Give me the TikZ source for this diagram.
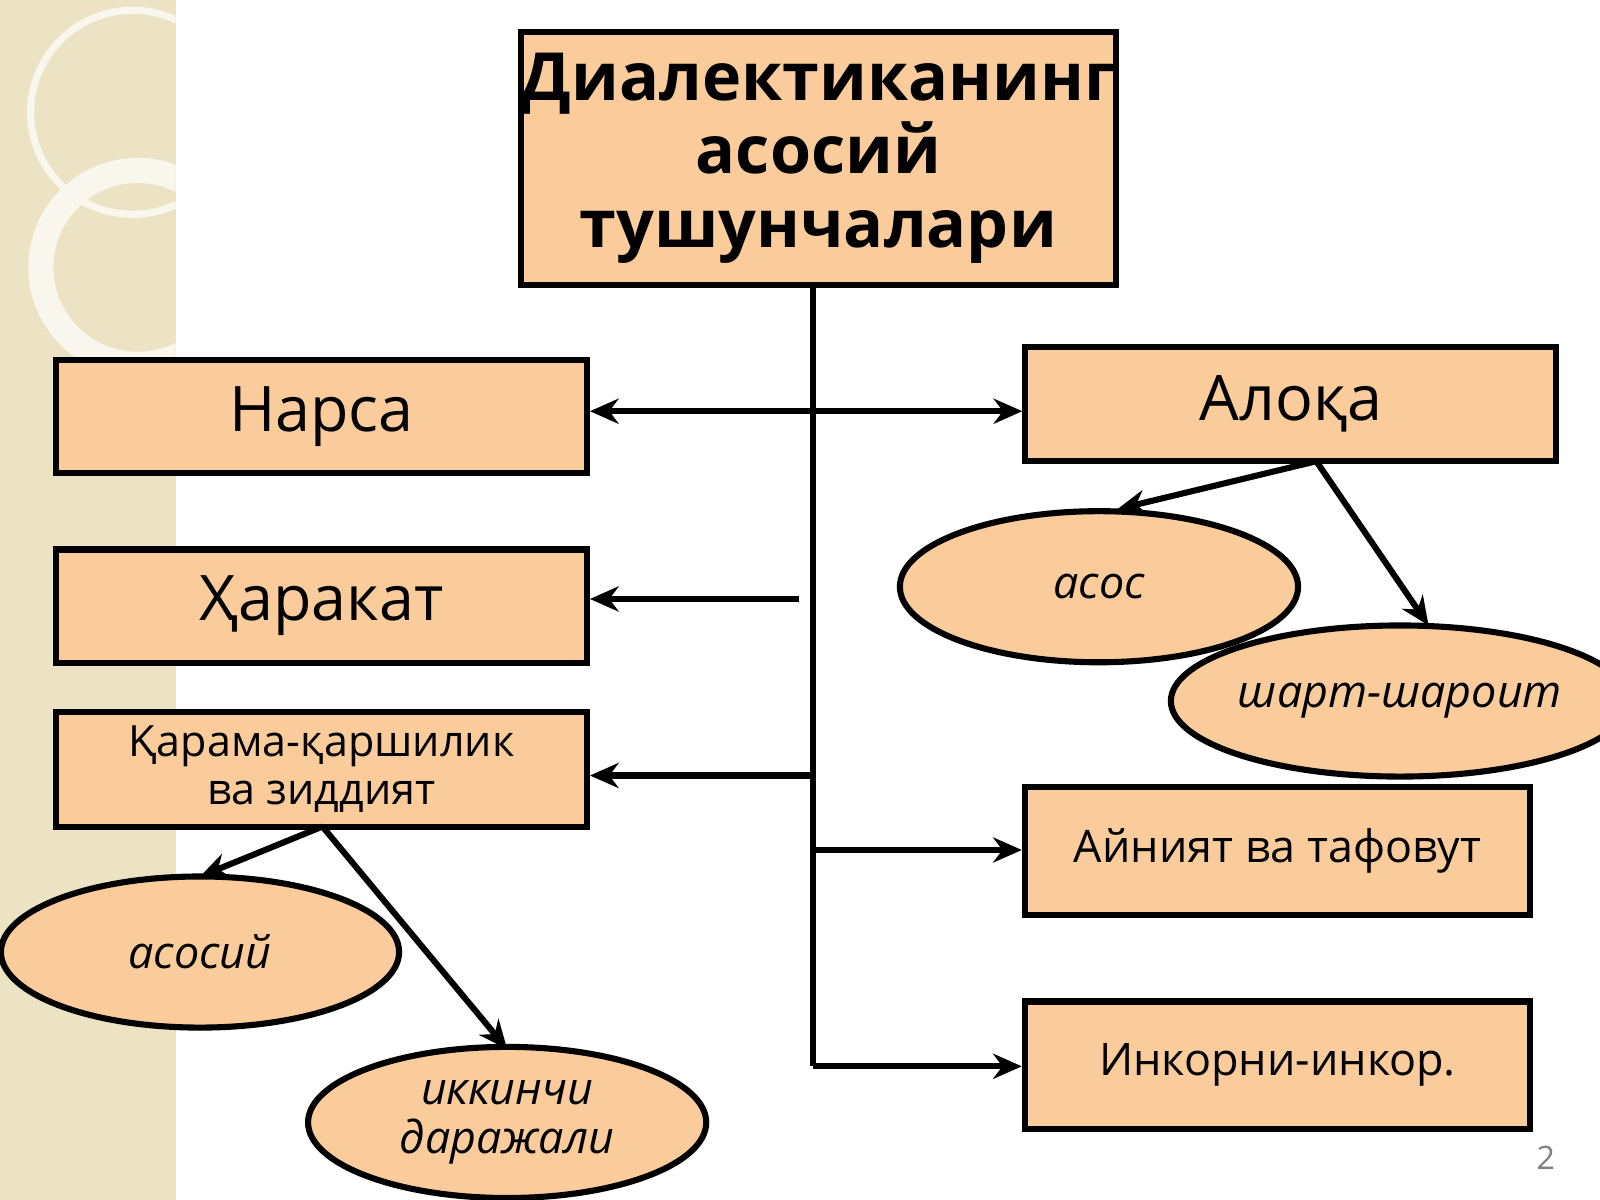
\documentclass[tikz,border=0pt]{standalone}
\usepackage{fontspec}
\setmainfont{Open Sans}
\usepackage{xcolor}
\usetikzlibrary{arrows.meta,shapes.geometric}
\definecolor{peach}{RGB}{250,203,155}
\definecolor{strip}{RGB}{236,226,196}
\tikzset{
  box/.style={draw, line width=1.7pt, fill=peach, minimum width=#1, inner sep=0pt},
  oval/.style={draw, ellipse, line width=1.7pt, fill=peach, inner sep=0pt, minimum width=3.9cm, minimum height=1.48cm, font=\fontsize{12.5}{15}\selectfont\itshape},
  link/.style={line width=1.7pt, -{Stealth[length=8pt,width=7pt]}}
}
\begin{document}
\begin{tikzpicture}[x=0.01cm, y=-0.01cm]
  \useasboundingbox (0,0) rectangle (1568,1176);
  % decorative strip
  \fill[strip] (0,0) rectangle (172,1176);
  \begin{scope}
    \clip (0,0) rectangle (172,1176);
    \draw[white, line width=2pt, opacity=0.7] (130,110) circle (100);
    \draw[white!70!strip, line width=7pt] (135,262) circle (95);
  \end{scope}
  \def\Xt{797};
  % boxes
  \node[box=5.82cm, minimum height=2.48cm, align=center, font=\fontsize{18.5}{20.5}\selectfont\bfseries] (title) at (802,155) {Диалектиканинг\\асосий\\тушунчалари};
  \node[box=5.2cm, minimum height=1.11cm, font=\fontsize{17.5}{21}\selectfont] (narsa) at (315,408) {Нарса};
  \node[box=5.2cm, minimum height=1.11cm, font=\fontsize{17.5}{21}\selectfont] (harakat) at (315,594) {Ҳаракат};
  \node[box=5.2cm, minimum height=1.12cm, align=center, font=\fontsize{12}{13.5}\selectfont] (qarama) at (315,754) {Қарама-қаршилик\\ва зиддият};
  \node[box=5.2cm, minimum height=1.12cm, font=\fontsize{17.5}{21}\selectfont] (aloqa) at (1265,396) {Алоқа};
  \node[box=4.95cm, minimum height=1.25cm, font=\fontsize{12.5}{15}\selectfont] (ayniyat) at (1252,834) {Айният ва тафовут};
  \node[box=4.95cm, minimum height=1.25cm, font=\fontsize{12.5}{15}\selectfont] (inkor) at (1252,1044) {Инкорни-инкор.};
  % ellipses
  \node[oval] (asos) at (1077,575) {асос};
  \node[oval] (shart) at (1372,687) {шарт-шароит};
  \node[oval, align=center] (asosiy) at (196,933) {асосий};
  \node[oval, align=center, font=\fontsize{12.5}{13.5}\selectfont\itshape] (ikkinchi) at (497,1100) {иккинчи\\даражали};
  % connectors
  \coordinate (top) at (\Xt,279);
  \coordinate (bot) at (\Xt,1045);
  \coordinate (gap) at (783,587);
  \draw[line width=1.7pt] (title.south -| top) -- (bot);
  \draw[link] (\Xt,403) -- (narsa.east |- 0,403);
  \draw[link] (\Xt,403) -- (aloqa.west |- 0,403);
  \draw[link] (gap) -- (harakat.east |- gap);
  \draw[link] (\Xt,760) -- (qarama.east |- 0,760);
  \draw[link] (\Xt,833) -- (ayniyat.west |- 0,833);
  \draw[link] (bot) -- (inkor.west |- bot);
  \draw[link] (1290,452) -- (1095,499);
  \draw[link] (1290,452) -- (1400,613);
  \draw[link] (316,810) -- (196,859);
  \draw[link] (316,810) -- (497,1028);
  \node[gray, font=\fontsize{9}{11}\selectfont] (page) at (1515,1135) {2};
\end{tikzpicture}
\end{document}
